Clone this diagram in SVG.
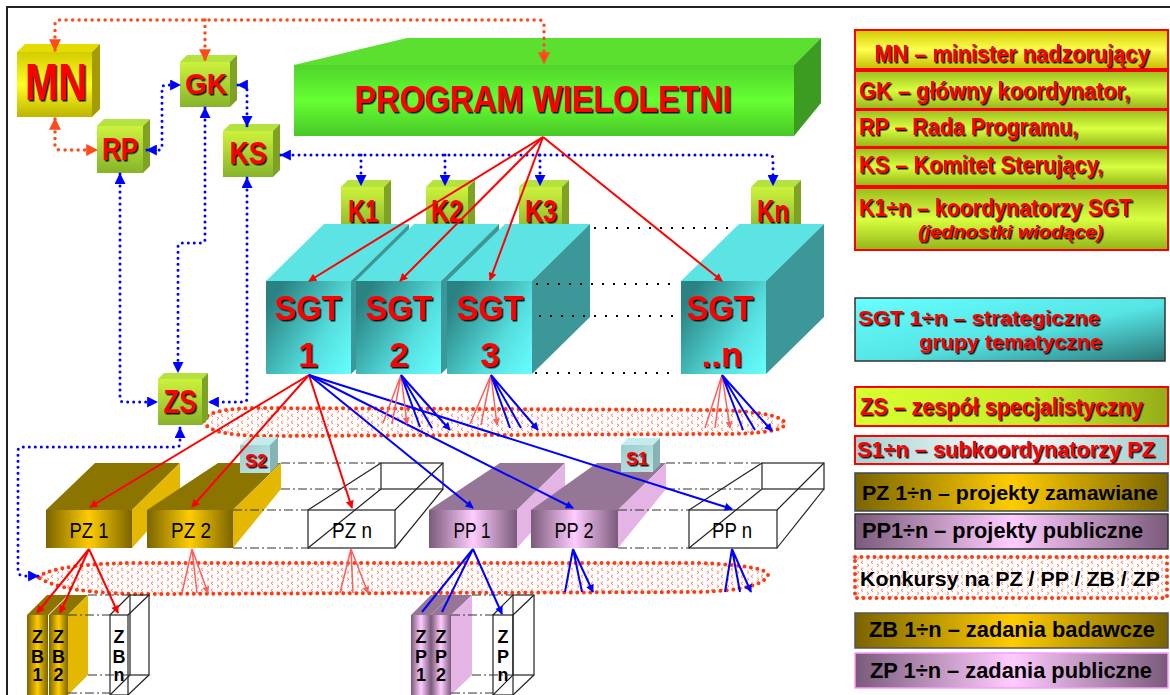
<svg xmlns="http://www.w3.org/2000/svg" width="1170" height="695" viewBox="0 0 1170 695">
<defs>
<style>
.rt{font-family:"Liberation Sans Narrow","Liberation Sans",Arial,sans-serif;font-weight:bold;fill:#ff0000;filter:url(#sh)}
.bt{font-family:"Liberation Sans Narrow","Liberation Sans",Arial,sans-serif;font-weight:bold;fill:#000}
.nt{font-family:"Liberation Sans Narrow","Liberation Sans",Arial,sans-serif;fill:#000;font-size:22px}
.bd{fill:none;stroke:#0000ff;stroke-width:3;stroke-linecap:round;stroke-dasharray:0 6;marker-start:url(#aBd);marker-end:url(#aBd)}
.od{fill:none;stroke:#ff4a1a;stroke-width:3.5;stroke-linecap:round;stroke-dasharray:0 6.5;marker-start:url(#aO);marker-end:url(#aO)}
.kd{fill:none;stroke:#000;stroke-width:2;stroke-dasharray:2 9}
.dd{fill:none;stroke:#333;stroke-width:1;stroke-dasharray:9 3 2 3}
.rl{fill:none;stroke:#ff0000;stroke-width:2;marker-end:url(#aR)}
.ll{fill:none;stroke:#ff5c5c;stroke-width:1.5;marker-end:url(#aL)}
.bl{fill:none;stroke:#0000ff;stroke-width:2;marker-end:url(#aB)}
.wf{fill:none;stroke:#222;stroke-width:1.2}
.band{fill:url(#chev);stroke:#ff3a10;stroke-width:4;stroke-linecap:round;stroke-dasharray:0 6.5}
.gf{fill:url(#gGreen)}.gt{fill:#b4e23e}.gr{fill:#7ea222}
.cf{fill:url(#gCyan)}.ct{fill:#5ce4e4}.cr{fill:#3c9898}
.zf{fill:url(#gGold)}.zt{fill:#8c7400}.zr{fill:#e4b800}
.pf{fill:url(#gPur)}.pt{fill:#967696}.pr{fill:#e4b4e4}
.sf{fill:url(#gS)}.st{fill:#c4ecec}.sr{fill:#86b4b4}
.lb{stroke:#ff0000;stroke-width:2}
</style>
<filter id="sh" x="-10%" y="-10%" width="125%" height="135%"><feDropShadow dx="1.5" dy="1.5" stdDeviation="0" flood-color="#000" flood-opacity="0.9"/></filter>
<linearGradient id="gGreen" x1="0" y1="0" x2="0" y2="1"><stop offset="0" stop-color="#cdf23c"/><stop offset="1" stop-color="#86b42a"/></linearGradient>
<linearGradient id="gMN" x1="0" y1="0" x2="0" y2="1"><stop offset="0" stop-color="#d4cc00"/><stop offset="0.5" stop-color="#ffff20"/><stop offset="1" stop-color="#bcb400"/></linearGradient>
<linearGradient id="gCyan" x1="0" y1="0.3" x2="1" y2="1"><stop offset="0" stop-color="#2a8282"/><stop offset="0.6" stop-color="#55dede"/><stop offset="1" stop-color="#66ffff"/></linearGradient>
<linearGradient id="gGold" x1="0" y1="0" x2="1" y2="0"><stop offset="0" stop-color="#7a6400"/><stop offset="0.5" stop-color="#ffcc00"/><stop offset="1" stop-color="#7a6400"/></linearGradient>
<linearGradient id="gPur" x1="0" y1="0" x2="1" y2="0"><stop offset="0" stop-color="#7a5a7a"/><stop offset="0.5" stop-color="#ffccff"/><stop offset="1" stop-color="#7a5a7a"/></linearGradient>
<linearGradient id="gS" x1="0" y1="0" x2="1" y2="1"><stop offset="0" stop-color="#9ccccc"/><stop offset="1" stop-color="#bfe8e8"/></linearGradient>
<linearGradient id="gProg" x1="0" y1="0" x2="0" y2="1"><stop offset="0" stop-color="#4fd42c"/><stop offset="0.5" stop-color="#66ff33"/><stop offset="1" stop-color="#48c826"/></linearGradient>
<linearGradient id="lMN" x1="0" y1="0" x2="0" y2="1"><stop offset="0" stop-color="#d0c800"/><stop offset="0.5" stop-color="#ffff50"/><stop offset="1" stop-color="#c4bc00"/></linearGradient>
<linearGradient id="lG" x1="0" y1="0" x2="0" y2="1"><stop offset="0" stop-color="#9cbc1c"/><stop offset="0.5" stop-color="#d8ff40"/><stop offset="1" stop-color="#94b418"/></linearGradient>
<linearGradient id="lSGT" x1="0" y1="0" x2="1" y2="1"><stop offset="0" stop-color="#66ffff"/><stop offset="0.55" stop-color="#55e4e4"/><stop offset="1" stop-color="#2a7474"/></linearGradient>
<linearGradient id="lZS" x1="0" y1="0" x2="1" y2="0"><stop offset="0" stop-color="#d8ff30"/><stop offset="0.6" stop-color="#c4ec28"/><stop offset="1" stop-color="#94ac18"/></linearGradient>
<linearGradient id="lS1" x1="0" y1="0" x2="1" y2="0"><stop offset="0" stop-color="#a4d2d2"/><stop offset="0.5" stop-color="#ffffff"/><stop offset="1" stop-color="#9ccaca"/></linearGradient>
<pattern id="chev" width="10" height="7" patternUnits="userSpaceOnUse"><path d="M3,0.8 L1,2.3 L3,3.8 M7,3.8 L9,5.3 L7,6.8" stroke="#ff7055" stroke-width="0.9" fill="none"/></pattern>
<marker id="aBd" viewBox="0 0 10 10" refX="9" refY="5" markerWidth="11" markerHeight="11" markerUnits="userSpaceOnUse" orient="auto-start-reverse"><path d="M0,0 L10,5 L0,10 z" fill="#0000ff"/></marker>
<marker id="aO" viewBox="0 0 10 10" refX="9" refY="5" markerWidth="12" markerHeight="12" markerUnits="userSpaceOnUse" orient="auto-start-reverse"><path d="M0,0 L10,5 L0,10 z" fill="#ff4a1a"/></marker>
<marker id="aR" viewBox="0 0 10 10" refX="9" refY="5" markerWidth="9" markerHeight="8" markerUnits="userSpaceOnUse" orient="auto"><path d="M0,0 L10,5 L0,10 z" fill="#ff0000"/></marker>
<marker id="aL" viewBox="0 0 10 10" refX="9" refY="5" markerWidth="8" markerHeight="7" markerUnits="userSpaceOnUse" orient="auto"><path d="M0,0 L10,5 L0,10 z" fill="#ff5c5c"/></marker>
<marker id="aB" viewBox="0 0 10 10" refX="9" refY="5" markerWidth="9" markerHeight="8" markerUnits="userSpaceOnUse" orient="auto"><path d="M0,0 L10,5 L0,10 z" fill="#0000ff"/></marker>
</defs>
<rect width="1170" height="695" fill="#fff"/>
<rect x="7" y="7" width="1200" height="720" fill="none" stroke="#222" stroke-width="2"/>

<g id="bands">
<path class="band" d="M204,421 Q206,408 262,408 L720,410 Q785,413 785,424 Q782,434 720,434 L262,436 Q206,435 204,421 Z"/>
<path class="band" d="M38,577 Q58,563 140,563 L700,563 Q768,566 768,575 Q762,590 700,592 L140,594 Q60,593 38,577 Z"/>
</g>

<g id="MN"><path d="M17,52 L25,44 L100,44 L92,52 Z" fill="#e2dc00"/><path d="M92,52 L100,44 L100,109 L92,117 Z" fill="#a49c00"/><rect x="17" y="52" width="75" height="65" fill="url(#gMN)"/><text class="rt" x="56" y="100" font-size="52" text-anchor="middle" textLength="62" lengthAdjust="spacingAndGlyphs">MN</text></g>
<g id="GK"><path class="gt" d="M180,62 L187,55 L237,55 L230,62 Z"/><path class="gr" d="M230,62 L237,55 L237,100 L230,107 Z"/><rect class="gf" x="180" y="62" width="50" height="45"/><text class="rt" x="206" y="94" font-size="30" text-anchor="middle" textLength="42" lengthAdjust="spacingAndGlyphs">GK</text></g>
<g id="RP"><path class="gt" d="M97,126 L104,119 L150,119 L143,126 Z"/><path class="gr" d="M143,126 L150,119 L150,166 L143,173 Z"/><rect class="gf" x="97" y="126" width="46" height="47"/><text class="rt" x="120" y="160" font-size="32" text-anchor="middle" textLength="36" lengthAdjust="spacingAndGlyphs">RP</text></g>
<g id="KS"><path class="gt" d="M223,131 L230,124 L280,124 L273,131 Z"/><path class="gr" d="M273,131 L280,124 L280,170 L273,177 Z"/><rect class="gf" x="223" y="131" width="50" height="46"/><text class="rt" x="248" y="164" font-size="32" text-anchor="middle" textLength="37" lengthAdjust="spacingAndGlyphs">KS</text></g>
<g id="ZS"><path class="gt" d="M158,379 L164,373 L208,373 L202,379 Z"/><path class="gr" d="M202,379 L208,373 L208,419 L202,425 Z"/><rect class="gf" x="158" y="379" width="44" height="46"/><text class="rt" x="180" y="413" font-size="33" text-anchor="middle" textLength="33" lengthAdjust="spacingAndGlyphs">ZS</text></g>

<g id="PROGRAM"><path d="M294,65 L407,38 L821,38 L794,65 Z" fill="#5ce030"/><path d="M794,65 L821,38 L821,103 L794,136 Z" fill="#3c9c22"/><rect x="294" y="65" width="500" height="71" fill="url(#gProg)"/><text class="rt" x="543" y="112" font-size="37" text-anchor="middle" textLength="377" lengthAdjust="spacingAndGlyphs">PROGRAM WIELOLETNI</text></g>

<g id="K1"><path class="gt" d="M341,187 L348,180 L391,180 L384,187 Z"/><path class="gr" d="M384,187 L391,180 L391,226 L384,233 Z"/><rect class="gf" x="341" y="187" width="43" height="46"/><text class="rt" x="363" y="222" font-size="32" text-anchor="middle" textLength="30" lengthAdjust="spacingAndGlyphs">K1</text></g>
<g id="K2"><path class="gt" d="M426,187 L433,180 L475,180 L468,187 Z"/><path class="gr" d="M468,187 L475,180 L475,226 L468,233 Z"/><rect class="gf" x="426" y="187" width="42" height="46"/><text class="rt" x="447" y="222" font-size="32" text-anchor="middle" textLength="32" lengthAdjust="spacingAndGlyphs">K2</text></g>
<g id="K3"><path class="gt" d="M519,187 L526,180 L569,180 L562,187 Z"/><path class="gr" d="M562,187 L569,180 L569,226 L562,233 Z"/><rect class="gf" x="519" y="187" width="43" height="46"/><text class="rt" x="541" y="222" font-size="32" text-anchor="middle" textLength="32" lengthAdjust="spacingAndGlyphs">K3</text></g>
<g id="Kn"><path class="gt" d="M751,187 L758,180 L801,180 L794,187 Z"/><path class="gr" d="M794,187 L801,180 L801,226 L794,233 Z"/><rect class="gf" x="751" y="187" width="43" height="46"/><text class="rt" x="773" y="222" font-size="32" text-anchor="middle" textLength="32" lengthAdjust="spacingAndGlyphs">Kn</text></g>

<g id="SGT1"><path class="ct" d="M266,281 L324,224 L409,224 L351,281 Z"/><path class="cr" d="M351,281 L409,224 L409,317 L351,374 Z"/><rect class="cf" x="266" y="281" width="85" height="93"/><text class="rt" x="308" y="320" font-size="35" text-anchor="middle" textLength="67" lengthAdjust="spacingAndGlyphs">SGT</text><text class="rt" x="308" y="367" font-size="35" text-anchor="middle">1</text></g>
<g id="SGT2"><path class="ct" d="M356,281 L414,224 L499,224 L441,281 Z"/><path class="cr" d="M441,281 L499,224 L499,317 L441,374 Z"/><rect class="cf" x="356" y="281" width="85" height="93"/><text class="rt" x="399" y="320" font-size="35" text-anchor="middle" textLength="67" lengthAdjust="spacingAndGlyphs">SGT</text><text class="rt" x="399" y="367" font-size="35" text-anchor="middle">2</text></g>
<g id="SGT3"><path class="ct" d="M447,281 L505,224 L590,224 L532,281 Z"/><path class="cr" d="M532,281 L590,224 L590,317 L532,374 Z"/><rect class="cf" x="447" y="281" width="85" height="93"/><text class="rt" x="490" y="320" font-size="35" text-anchor="middle" textLength="67" lengthAdjust="spacingAndGlyphs">SGT</text><text class="rt" x="490" y="367" font-size="35" text-anchor="middle">3</text></g>
<g id="SGTn"><path class="ct" d="M681,281 L739,224 L824,224 L766,281 Z"/><path class="cr" d="M766,281 L824,224 L824,317 L766,374 Z"/><rect class="cf" x="681" y="281" width="85" height="93"/><text class="rt" x="720" y="320" font-size="35" text-anchor="middle" textLength="67" lengthAdjust="spacingAndGlyphs">SGT</text><text class="rt" x="722" y="367" font-size="35" text-anchor="middle">..n</text></g>

<g id="PZ1"><path class="zt" d="M46,510 L95,463 L180,463 L132,510 Z"/><path class="zr" d="M132,510 L180,463 L180,495 L132,548 Z"/><rect class="zf" x="46" y="510" width="86" height="38"/><text class="nt" x="89" y="538" text-anchor="middle" textLength="39" lengthAdjust="spacingAndGlyphs">PZ 1</text></g>
<g id="PZ2"><path class="zt" d="M147,510 L218,463 L281,463 L233,510 Z"/><path class="zr" d="M233,510 L281,463 L281,489 L233,548 Z"/><rect class="zf" x="147" y="510" width="86" height="38"/><text class="nt" x="191" y="538" text-anchor="middle" textLength="40" lengthAdjust="spacingAndGlyphs">PZ 2</text></g>
<g id="S2"><path class="st" d="M240,445 L248,437 L278,437 L270,445 Z"/><path class="sr" d="M270,445 L278,437 L278,465 L270,473 Z"/><rect class="sf" x="240" y="445" width="30" height="28"/><text class="rt" x="256" y="467" font-size="19" text-anchor="middle" textLength="22" lengthAdjust="spacingAndGlyphs">S2</text></g>
<g id="PZn"><rect class="wf" x="381" y="463" width="62" height="26"/><path class="wf" d="M308,510 L381,463 M395,510 L443,463 M395,548 L443,489 M308,548 L381,489"/><rect class="wf" x="308" y="510" width="87" height="38"/><text class="nt" x="352" y="538" text-anchor="middle" textLength="40" lengthAdjust="spacingAndGlyphs">PZ n</text></g>
<g id="PP1"><path class="pt" d="M429,510 L500,463 L565,463 L517,510 Z"/><path class="pr" d="M517,510 L565,463 L565,495 L517,548 Z"/><rect class="pf" x="429" y="510" width="88" height="38"/><text class="nt" x="472" y="538" text-anchor="middle" textLength="37" lengthAdjust="spacingAndGlyphs">PP 1</text></g>
<g id="PP2"><path class="pt" d="M531,510 L597,463 L666,463 L618,510 Z"/><path class="pr" d="M618,510 L666,463 L666,489 L618,548 Z"/><rect class="pf" x="531" y="510" width="87" height="38"/><text class="nt" x="574" y="538" text-anchor="middle" textLength="39" lengthAdjust="spacingAndGlyphs">PP 2</text></g>
<g id="S1"><path class="st" d="M621,445 L628,438 L660,438 L653,445 Z"/><path class="sr" d="M653,445 L660,438 L660,465 L653,472 Z"/><rect class="sf" x="621" y="445" width="32" height="27"/><text class="rt" x="637" y="465" font-size="19" text-anchor="middle" textLength="22" lengthAdjust="spacingAndGlyphs">S1</text></g>
<g id="PPn"><rect class="wf" x="762" y="463" width="62" height="26"/><path class="wf" d="M689,510 L762,463 M777,510 L824,463 M777,548 L824,489 M689,548 L762,489"/><rect class="wf" x="689" y="510" width="88" height="38"/><text class="nt" x="732" y="538" text-anchor="middle" textLength="40" lengthAdjust="spacingAndGlyphs">PP n</text></g>

<g id="ZB1"><path class="zt" d="M27,615 L47,595 L68,595 L48,615 Z"/><rect class="zf" x="27" y="615" width="21" height="80"/><text class="bt" font-size="18" text-anchor="middle"><tspan x="37.5" y="643">Z</tspan><tspan x="37.5" y="663">B</tspan><tspan x="37.5" y="681">1</tspan></text></g>
<g id="ZB2"><path class="zt" d="M49,615 L69,595 L88,595 L68,615 Z"/><path class="zr" d="M68,615 L88,595 L88,675 L68,695 Z"/><rect class="zf" x="49" y="615" width="19" height="80"/><text class="bt" font-size="18" text-anchor="middle"><tspan x="58.5" y="643">Z</tspan><tspan x="58.5" y="663">B</tspan><tspan x="58.5" y="681">2</tspan></text></g>
<g id="ZBn"><rect class="wf" x="130" y="595" width="19" height="80"/><path class="wf" d="M110,615 L130,595 M128,615 L149,595 M128,695 L149,675 M110,695 L130,675"/><rect class="wf" x="110" y="615" width="18" height="80"/><text class="bt" font-size="18" text-anchor="middle"><tspan x="119" y="643">Z</tspan><tspan x="119" y="663">B</tspan><tspan x="119" y="681">n</tspan></text></g>
<g id="ZP1"><path class="pt" d="M411,615 L431,595 L451,595 L431,615 Z"/><rect class="pf" x="411" y="615" width="20" height="80"/><text class="bt" font-size="18" text-anchor="middle"><tspan x="421" y="643">Z</tspan><tspan x="421" y="663">P</tspan><tspan x="421" y="681">1</tspan></text></g>
<g id="ZP2"><path class="pt" d="M431,615 L451,595 L472,595 L451,615 Z"/><path class="pr" d="M451,615 L472,595 L472,675 L451,695 Z"/><rect class="pf" x="431" y="615" width="20" height="80"/><text class="bt" font-size="18" text-anchor="middle"><tspan x="441" y="643">Z</tspan><tspan x="441" y="663">P</tspan><tspan x="441" y="681">2</tspan></text></g>
<g id="ZPn"><rect class="wf" x="513" y="595" width="21" height="80"/><path class="wf" d="M493,615 L513,595 M513,615 L534,595 M513,695 L534,675 M493,695 L513,675"/><rect class="wf" x="493" y="615" width="20" height="80"/><text class="bt" font-size="18" text-anchor="middle"><tspan x="503" y="643">Z</tspan><tspan x="503" y="663">P</tspan><tspan x="503" y="681">n</tspan></text></g>

<g id="connectors">
<path class="od" d="M55,50 L55,25 Q55,20 60,20 L539,20 Q544,20 544,25 L544,63"/>
<path class="od" d="M205,20 L205,60" style="marker-start:none"/>
<path class="od" d="M55,119 L55,145 Q55,150 60,150 L97,150"/>
<path class="bd" d="M147,150 L158,150 Q162,150 162,146 L162,89 Q162,85 166,85 L180,85"/>
<path class="bd" d="M238,85 L243,85 Q247,85 247,89 L247,126"/>
<path class="bd" d="M281,155 L769,155 Q773,155 773,159 L773,185"/>
<path class="bd" d="M361,155 L361,185" style="marker-start:none"/>
<path class="bd" d="M445,155 L445,185" style="marker-start:none"/>
<path class="bd" d="M540,155 L540,185" style="marker-start:none"/>
<path class="bd" d="M205,108 L205,239 Q205,243 201,243 L182,243 Q178,243 178,247 L178,372"/>
<path class="bd" d="M120,174 L120,398 Q120,402 124,402 L157,402"/>
<path class="bd" d="M247,178 L247,398 Q247,402 243,402 L209,402"/>
<path class="bd" d="M180,428 L180,443 Q180,447 176,447 L22,447 Q18,447 18,451 L18,570 Q18,576 24,576 L38,576"/>
<path class="kd" d="M594,228 L732,228 M536,284 L679,284 M539,316 L675,316 M535,373 L672,373"/>
<path class="dd" d="M281,463 L381,463 M281,489 L381,489 M233,510 L308,510 M233,548 L308,548 M666,463 L762,463 M666,489 L762,489 M618,510 L689,510 M618,548 L689,548"/>
<path class="dd" d="M88,595 L130,595 M68,615 L110,615 M88,675 L130,675 M68,693 L110,693 M472,595 L513,595 M451,615 L493,615 M472,675 L513,675 M451,693 L493,693"/>
<path class="rl" d="M543,137 L309,281"/>
<path class="rl" d="M543,137 L400,281"/>
<path class="rl" d="M543,137 L490,280"/>
<path class="rl" d="M543,137 L722,281"/>
<path class="rl" d="M309,375 L90,507"/>
<path class="rl" d="M309,375 L192,507"/>
<path class="rl" d="M309,375 L352,508"/>
<path class="bl" d="M309,375 L473,508"/>
<path class="bl" d="M309,375 L573,508"/>
<path class="bl" d="M309,375 L732,509"/>
<path class="ll" d="M401,375 L383,423 M401,375 L392,424 M401,375 L407,424"/>
<path class="bl" d="M401,375 L420,427 M401,375 L432,428 M401,375 L450,430"/>
<path class="ll" d="M491,375 L470,424 M491,375 L481,425 M491,375 L497,425"/>
<path class="bl" d="M491,375 L510,428 M491,375 L521,428 M491,375 L538,430"/>
<path class="ll" d="M722,375 L705,428 M722,375 L715,428 M722,375 L730,428"/>
<path class="bl" d="M722,375 L743,430 M722,375 L755,430 M722,375 L772,431"/>
<path class="rl" d="M89,549 L37,613"/>
<path class="rl" d="M89,549 L60,613"/>
<path class="rl" d="M89,549 L118,613"/>
<path class="ll" d="M192,549 L182,593 M192,549 L197,593 M192,549 L208,593"/>
<path class="ll" d="M351,549 L340,593 M351,549 L353,593 M351,549 L368,593"/>
<path class="bl" d="M473,549 L422,612 M473,549 L442,612 M473,549 L502,614"/>
<path class="bl" d="M573,549 L565,592 M573,549 L582,592 M573,549 L593,592"/>
<path class="bl" d="M732,549 L725,592 M732,549 L740,592 M732,549 L751,592"/>
</g>

<g id="legend">
<rect x="855" y="30" width="313" height="39" fill="url(#lMN)" class="lb"/>
<text class="rt" x="1012" y="62" font-size="23" text-anchor="middle" textLength="275" lengthAdjust="spacingAndGlyphs">MN – minister nadzorujący</text>
<rect x="855" y="71" width="313" height="38" fill="url(#lG)" class="lb"/>
<text class="rt" x="859" y="99" font-size="23" textLength="271" lengthAdjust="spacingAndGlyphs">GK – główny koordynator,</text>
<rect x="855" y="110" width="313" height="37" fill="url(#lG)" class="lb"/>
<text class="rt" x="859" y="135" font-size="23" textLength="219" lengthAdjust="spacingAndGlyphs">RP – Rada Programu,</text>
<rect x="855" y="148" width="313" height="38" fill="url(#lG)" class="lb"/>
<text class="rt" x="859" y="173" font-size="23" textLength="244" lengthAdjust="spacingAndGlyphs">KS – Komitet Sterujący,</text>
<rect x="855" y="188" width="313" height="62" fill="url(#lG)" class="lb"/>
<text class="rt" x="859" y="216" font-size="23" textLength="273" lengthAdjust="spacingAndGlyphs">K1÷n – koordynatorzy SGT</text>
<text class="rt" x="918" y="238" font-size="18" font-style="italic" textLength="185" lengthAdjust="spacingAndGlyphs">(jednostki wiodące)</text>
<rect x="855" y="298" width="310" height="63" fill="url(#lSGT)" stroke="#333" stroke-width="1.5"/>
<text class="rt" x="858" y="325" font-size="21" textLength="242" lengthAdjust="spacingAndGlyphs">SGT 1÷n – strategiczne</text>
<text class="rt" x="919" y="349" font-size="21" textLength="183" lengthAdjust="spacingAndGlyphs">grupy tematyczne</text>
<rect x="855" y="387" width="313" height="39" fill="url(#lZS)" class="lb"/>
<text class="rt" x="860" y="415" font-size="23" textLength="283" lengthAdjust="spacingAndGlyphs">ZS – zespół specjalistyczny</text>
<rect x="855" y="436" width="313" height="28" fill="url(#lS1)" class="lb"/>
<text class="rt" x="857" y="457" font-size="22" textLength="298" lengthAdjust="spacingAndGlyphs">S1÷n – subkoordynatorzy PZ</text>
<rect x="855" y="473" width="313" height="38" fill="url(#gGold)" stroke="#3a4a5a" stroke-width="1.5"/>
<text class="bt" x="862" y="500" font-size="20.5" textLength="296" lengthAdjust="spacingAndGlyphs">PZ 1÷n – projekty zamawiane</text>
<rect x="855" y="514" width="313" height="35" fill="url(#gPur)" stroke="#333" stroke-width="1.5"/>
<text class="bt" x="862" y="538" font-size="22" textLength="281" lengthAdjust="spacingAndGlyphs">PP1÷n – projekty publiczne</text>
<rect x="855" y="557" width="312" height="41" class="band"/>
<text class="bt" x="860" y="586" font-size="21" textLength="300" lengthAdjust="spacingAndGlyphs">Konkursy na PZ / PP / ZB / ZP</text>
<rect x="855" y="613" width="313" height="35" fill="url(#gGold)" stroke="#555" stroke-width="1.5"/>
<text class="bt" x="869" y="637" font-size="22" textLength="286" lengthAdjust="spacingAndGlyphs">ZB 1÷n – zadania badawcze</text>
<rect x="855" y="653" width="313" height="35" fill="url(#gPur)" stroke="#ff99ff" stroke-width="1.5"/>
<text class="bt" x="870" y="678" font-size="22" textLength="282" lengthAdjust="spacingAndGlyphs">ZP 1÷n – zadania publiczne</text>
</g>
</svg>
